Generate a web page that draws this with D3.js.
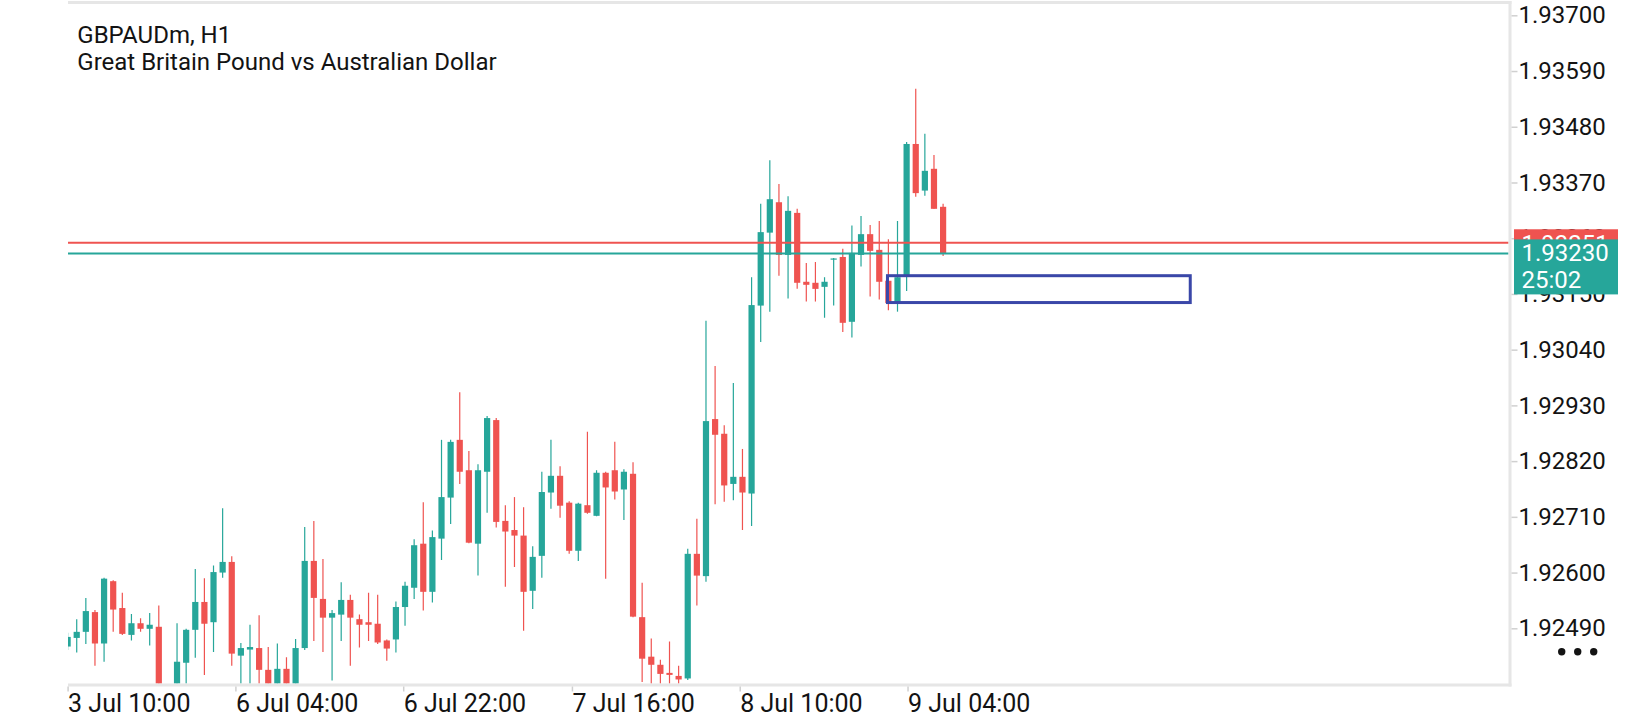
<!DOCTYPE html>
<html>
<head>
<meta charset="utf-8">
<script src="https://cdn.jsdelivr.net/npm/d3@7"></script>
<style>
  body { margin: 0; background: #fff; }
  text { font-family: Roboto, "Noto Sans", sans-serif; }
</style>
</head>
<body>
<div id="chart"></div>
<script>
// GBPAUDm H1 candles (oldest first)
var opens = [
  1.92454, 1.92471, 1.92483, 1.92522, 1.92460, 1.92583, 1.92530, 1.92477, 1.92500, 1.92489,
  1.92493, 1.92339, 1.92358, 1.92422, 1.92487, 1.92542, 1.92502, 1.92600, 1.92621, 1.92436,
  1.92448, 1.92451, 1.92408, 1.92368, 1.92410, 1.92368, 1.92451, 1.92623, 1.92548, 1.92511,
  1.92517, 1.92546, 1.92508, 1.92502, 1.92499, 1.92466, 1.92468, 1.92532, 1.92570, 1.92657,
  1.92562, 1.92667, 1.92748, 1.92862, 1.92802, 1.92657, 1.92799, 1.92901, 1.92702, 1.92684,
  1.92673, 1.92564, 1.92633, 1.92758, 1.92791, 1.92738, 1.92643, 1.92733, 1.92712, 1.92797,
  1.92802, 1.92764, 1.92795, 1.92512, 1.92434, 1.92418, 1.92402, 1.92396, 1.92391, 1.92637,
  1.92593, 1.92903, 1.92874, 1.92775, 1.92789, 1.92756, 1.93127, 1.93271, 1.93331, 1.93227,
  1.93310, 1.93174, 1.93172, 1.93164, 1.93218, 1.93223, 1.93095, 1.93227, 1.93268, 1.93237,
  1.93176, 1.93133, 1.93185, 1.93446, 1.93354, 1.93397, 1.93322
];
var highs = [
  1.92481, 1.92508, 1.92550, 1.92526, 1.92590, 1.92585, 1.92560, 1.92518, 1.92510, 1.92520,
  1.92535, 1.92372, 1.92500, 1.92489, 1.92607, 1.92589, 1.92614, 1.92727, 1.92632, 1.92461,
  1.92497, 1.92516, 1.92453, 1.92460, 1.92433, 1.92469, 1.92690, 1.92702, 1.92627, 1.92526,
  1.92581, 1.92556, 1.92517, 1.92560, 1.92556, 1.92468, 1.92543, 1.92582, 1.92666, 1.92739,
  1.92683, 1.92862, 1.92862, 1.92956, 1.92840, 1.92814, 1.92909, 1.92905, 1.92733, 1.92749,
  1.92729, 1.92652, 1.92799, 1.92862, 1.92810, 1.92741, 1.92738, 1.92878, 1.92802, 1.92799,
  1.92858, 1.92804, 1.92818, 1.92580, 1.92470, 1.92428, 1.92464, 1.92416, 1.92647, 1.92706,
  1.93097, 1.93008, 1.92891, 1.92974, 1.92844, 1.93183, 1.93328, 1.93414, 1.93367, 1.93343,
  1.93318, 1.93211, 1.93213, 1.93183, 1.93221, 1.93239, 1.93285, 1.93304, 1.93286, 1.93294,
  1.93258, 1.93294, 1.93450, 1.93555, 1.93466, 1.93424, 1.93328
];
var lows = [
  1.92447, 1.92442, 1.92459, 1.92416, 1.92424, 1.92483, 1.92477, 1.92466, 1.92483, 1.92456,
  1.92325, 1.92317, 1.92349, 1.92372, 1.92432, 1.92398, 1.92443, 1.92590, 1.92416, 1.92376,
  1.92372, 1.92368, 1.92349, 1.92356, 1.92354, 1.92358, 1.92447, 1.92465, 1.92443, 1.92387,
  1.92465, 1.92416, 1.92452, 1.92465, 1.92459, 1.92426, 1.92442, 1.92495, 1.92548, 1.92525,
  1.92541, 1.92625, 1.92696, 1.92775, 1.92658, 1.92594, 1.92718, 1.92689, 1.92572, 1.92611,
  1.92485, 1.92528, 1.92590, 1.92726, 1.92708, 1.92637, 1.92623, 1.92716, 1.92711, 1.92588,
  1.92744, 1.92704, 1.92512, 1.92384, 1.92376, 1.92376, 1.92374, 1.92372, 1.92388, 1.92535,
  1.92582, 1.92735, 1.92740, 1.92743, 1.92684, 1.92692, 1.93055, 1.93115, 1.93186, 1.93141,
  1.93160, 1.93135, 1.93135, 1.93103, 1.93127, 1.93075, 1.93064, 1.93204, 1.93145, 1.93139,
  1.93118, 1.93115, 1.93156, 1.93342, 1.93344, 1.93318, 1.93225
];
var closes = [
  1.92473, 1.92483, 1.92524, 1.92460, 1.92588, 1.92527, 1.92479, 1.92500, 1.92489, 1.92497,
  1.92349, 1.92358, 1.92424, 1.92487, 1.92542, 1.92499, 1.92601, 1.92621, 1.92440, 1.92451,
  1.92453, 1.92408, 1.92364, 1.92410, 1.92368, 1.92451, 1.92623, 1.92550, 1.92511, 1.92520,
  1.92546, 1.92511, 1.92497, 1.92497, 1.92462, 1.92450, 1.92532, 1.92574, 1.92654, 1.92562,
  1.92670, 1.92749, 1.92858, 1.92799, 1.92659, 1.92802, 1.92905, 1.92700, 1.92681, 1.92673,
  1.92562, 1.92631, 1.92759, 1.92791, 1.92732, 1.92643, 1.92736, 1.92718, 1.92797, 1.92768,
  1.92760, 1.92799, 1.92513, 1.92430, 1.92418, 1.92400, 1.92398, 1.92389, 1.92637, 1.92594,
  1.92899, 1.92872, 1.92772, 1.92789, 1.92758, 1.93128, 1.93272, 1.93337, 1.93227, 1.93314,
  1.93172, 1.93168, 1.93160, 1.93174, 1.93220, 1.93093, 1.93231, 1.93268, 1.93235, 1.93174,
  1.93132, 1.93183, 1.93446, 1.93349, 1.93393, 1.93318, 1.93230
];

var timeLabels = ["3 Jul 10:00", "6 Jul 04:00", "6 Jul 22:00", "7 Jul 16:00", "8 Jul 10:00", "9 Jul 04:00"];
var timeTickBars = [0, 18.4, 36.8, 55.3, 73.7, 92.1];
var priceTicks = [1.92490, 1.92600, 1.92710, 1.92820, 1.92930, 1.93040, 1.93150,
                  1.93260, 1.93370, 1.93480, 1.93590, 1.93700];

var askPrice = 1.93251, bidPrice = 1.93230, countdown = "25:02";
var symbolTitle = "GBPAUDm, H1", symbolName = "Great Britain Pound vs Australian Dollar";
// drawn rectangle: bar index range and price range
var zoneBars = [89.9, 123.1], zonePrices = [1.93186, 1.93133];

var width = 1640, height = 720,
    plot = {left: 68, right: 1510, top: 2, bottom: 685},
    up = "#26a69a", down = "#ef5350", frame = "#e6e6e6", ink = "#131313";

var svg = d3.select("#chart").append("svg")
  .attr("width", width)
  .attr("height", height);

var x = d3.scaleLinear().domain([0, 96]).range([67.6, 943.1]);
var y = d3.scaleLinear().domain([1.92490, 1.93700]).range([628.3, 15.3]);

svg.append("clipPath").attr("id", "plotClip")
  .append("rect")
  .attr("x", plot.left).attr("y", plot.top + 1.5)
  .attr("width", plot.right - 1.5 - plot.left)
  .attr("height", plot.bottom - 1.5 - plot.top - 1.5);

var bars = opens.map((o, i) => ({i: i, o: o, h: highs[i], l: lows[i], c: closes[i]}));

var candles = svg.append("g").attr("clip-path", "url(#plotClip)");

candles.selectAll(".wick")
  .data(bars)
  .enter().append("line")
  .attr("class", "wick")
  .attr("x1", d => x(d.i)).attr("x2", d => x(d.i))
  .attr("y1", d => y(d.h)).attr("y2", d => y(d.l))
  .attr("stroke", d => d.c >= d.o ? up : down)
  .attr("stroke-width", 1.2);

candles.selectAll(".body")
  .data(bars)
  .enter().append("rect")
  .attr("class", "body")
  .attr("x", d => x(d.i) - 3.1)
  .attr("width", 6.2)
  .attr("y", d => y(Math.max(d.o, d.c)))
  .attr("height", d => Math.max(1.2, Math.abs(y(d.o) - y(d.c))))
  .attr("fill", d => d.c >= d.o ? up : down);

// current ask / bid lines
candles.append("line")
  .attr("x1", plot.left).attr("x2", plot.right)
  .attr("y1", y(askPrice)).attr("y2", y(askPrice))
  .attr("stroke", down).attr("stroke-width", 2);
candles.append("line")
  .attr("x1", plot.left).attr("x2", plot.right)
  .attr("y1", y(bidPrice)).attr("y2", y(bidPrice))
  .attr("stroke", up).attr("stroke-width", 2);

// the rectangle drawn on the chart
candles.append("rect")
  .attr("x", x(zoneBars[0]))
  .attr("width", x(zoneBars[1]) - x(zoneBars[0]))
  .attr("y", y(zonePrices[0]))
  .attr("height", y(zonePrices[1]) - y(zonePrices[0]))
  .attr("fill", "none")
  .attr("stroke", "#3a47a8")
  .attr("stroke-width", 3);

// frame
svg.append("line").attr("x1", plot.left).attr("x2", plot.right + 1.5)
  .attr("y1", 2.5).attr("y2", 2.5).attr("stroke", frame).attr("stroke-width", 3);
svg.append("line").attr("x1", plot.right).attr("x2", plot.right)
  .attr("y1", 1).attr("y2", plot.bottom + 1.5).attr("stroke", frame).attr("stroke-width", 3);
svg.append("line").attr("x1", plot.left).attr("x2", plot.right + 1.5)
  .attr("y1", plot.bottom).attr("y2", plot.bottom).attr("stroke", frame).attr("stroke-width", 3);

// price axis
var yAxis = d3.axisRight(y)
  .tickValues(priceTicks)
  .tickFormat(d3.format(".5f"))
  .tickSize(6)
  .tickPadding(1);

var yg = svg.append("g")
  .attr("transform", `translate(${plot.right + 1.5},0)`)
  .call(yAxis);
yg.select(".domain").remove();
yg.selectAll(".tick line").attr("stroke", "#d0d0d0").attr("stroke-width", 1.5);
yg.selectAll(".tick text").attr("fill", ink).style("font-size", "24px");

// time axis
var xAxis = d3.axisBottom(x)
  .tickValues(timeTickBars)
  .tickFormat((d, k) => timeLabels[k])
  .tickSize(5);

var xg = svg.append("g")
  .attr("transform", `translate(0,${plot.bottom + 1.5})`)
  .call(xAxis);
xg.select(".domain").remove();
xg.selectAll(".tick line").attr("stroke", "#d0d0d0").attr("stroke-width", 1.5);
xg.selectAll(".tick text")
  .attr("text-anchor", "start")
  .attr("y", 25).attr("dy", 0)
  .attr("fill", ink)
  .style("font-size", "25px");

// ask / bid labels on the price scale
svg.append("rect")
  .attr("x", 1514).attr("width", 104)
  .attr("y", y(askPrice) - 13.5).attr("height", 27)
  .attr("fill", down);
svg.append("text")
  .attr("x", 1521.5).attr("y", y(askPrice) + 9)
  .attr("fill", "#fff").style("font-size", "24px")
  .text(d3.format(".5f")(askPrice));

svg.append("rect")
  .attr("x", 1514).attr("width", 104)
  .attr("y", y(bidPrice) - 14).attr("height", 55)
  .attr("fill", up);
svg.append("text")
  .attr("x", 1521.5).attr("y", y(bidPrice) + 7.5)
  .attr("fill", "#fff").style("font-size", "24px")
  .text(d3.format(".5f")(bidPrice));
svg.append("text")
  .attr("x", 1521.5).attr("y", y(bidPrice) + 35)
  .attr("fill", "#fff").style("font-size", "24px")
  .text(countdown);

// menu dots
svg.selectAll(".dot")
  .data(d3.range(3))
  .enter().append("circle")
  .attr("cx", k => 1561.7 + k * 16)
  .attr("cy", 651.7)
  .attr("r", 3.7)
  .attr("fill", ink);

// symbol title
svg.append("text")
  .attr("x", 77.3).attr("y", 42.7)
  .attr("fill", ink).style("font-size", "24px")
  .text(symbolTitle);
svg.append("text")
  .attr("x", 77.3).attr("y", 70)
  .attr("fill", ink).style("font-size", "24px")
  .text(symbolName);
</script>
</body>
</html>
